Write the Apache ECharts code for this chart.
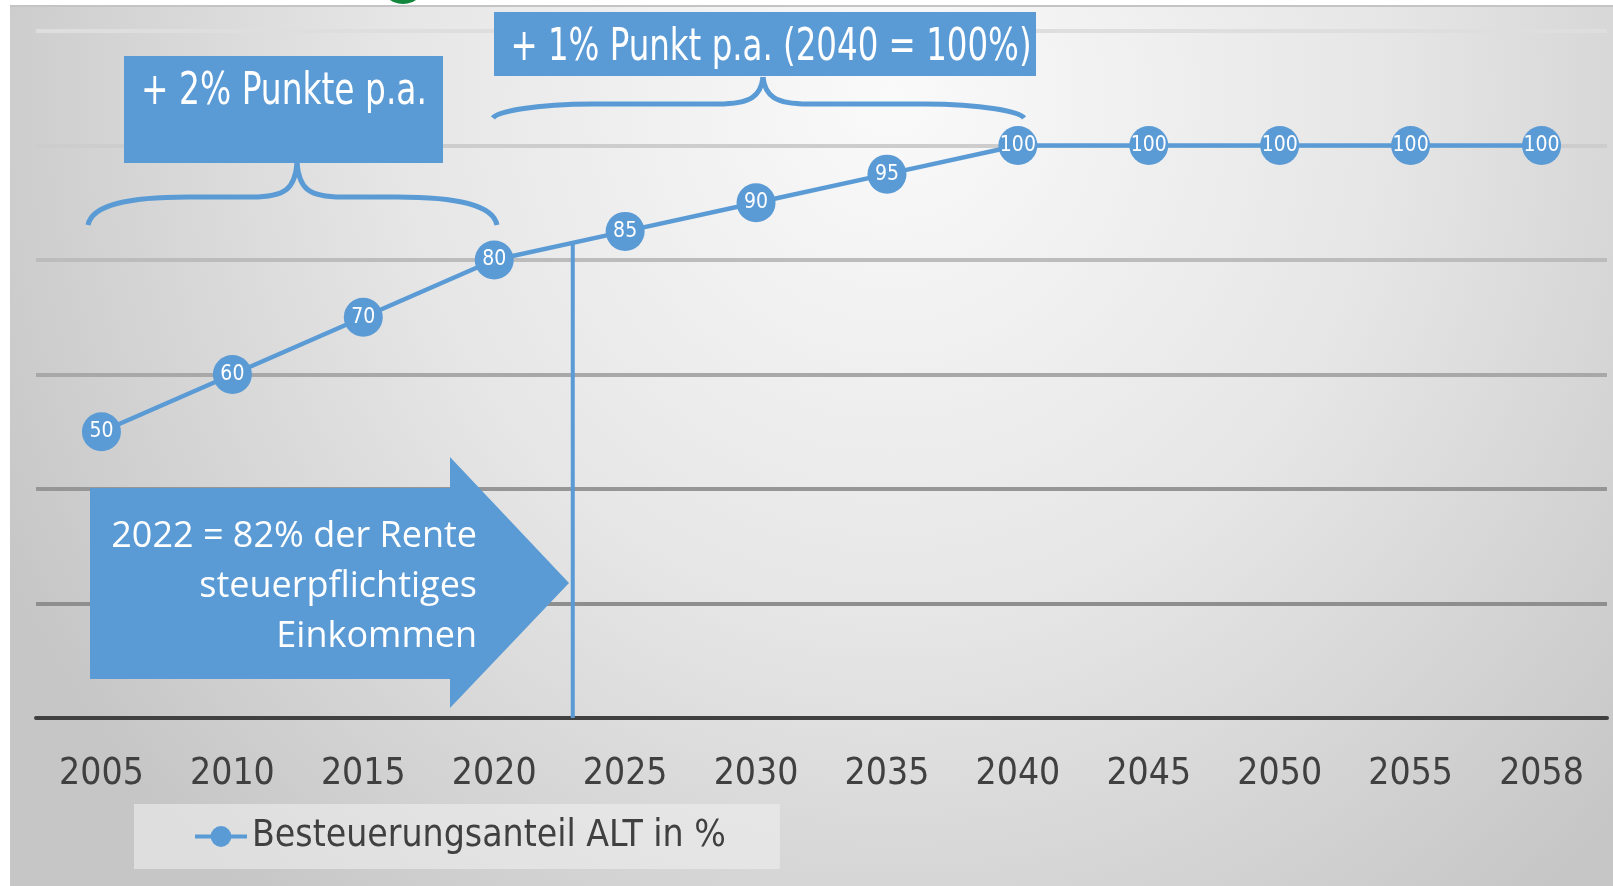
<!DOCTYPE html>
<html>
<head>
<meta charset="utf-8">
<script src="https://cdn.jsdelivr.net/npm/echarts@6/dist/echarts.min.js"></script>
<style>
    html, body { margin: 0; padding: 0; background: #fff; }
    #panel {
        position: absolute; left: 10px; top: 5px; width: 1603px; height: 881px;
        box-sizing: border-box; border-top: 2px solid #c4c4c4;
        background: radial-gradient(ellipse 62% 120% at 55% 10%, #fafafa 0%, #e6e6e6 50%, #c6c6c6 100%);
    }
    #chart { position: absolute; left: 0; top: 0; width: 1613px; height: 886px; }
</style>
</head>
<body>
<div id="panel"></div>
<div id="chart"></div>
<script>
// data
const years = ['2005', '2010', '2015', '2020', '2025', '2030', '2035', '2040', '2045', '2050', '2055', '2058'];
const shareValues = [50, 60, 70, 80, 85, 90, 95, 100, 100, 100, 100, 100];
const seriesName = 'Besteuerungsanteil ALT in %';
const markerYear = 2023;
const markerShare = 83;

const BLUE = '#5b9bd5';
const NARROW = '"Liberation Sans Narrow", "DejaVu Sans Condensed", sans-serif';
const SOFT = '"Open Sans", "Noto Sans", sans-serif';

// position of the marker year on the category index scale
const markerPos = (() => {
    const nums = years.map(Number);
    for (let i = 0; i < nums.length - 1; i++) {
        if (markerYear >= nums[i] && markerYear <= nums[i + 1]) {
            return i + (markerYear - nums[i]) / (nums[i + 1] - nums[i]);
        }
    }
    return 0;
})();

// curly brace built from bezier pieces and straight lines
const brace = (xL, xR, xT, yEnd, yMid, yTip) => {
    const st = { stroke: BLUE, lineWidth: 5, fill: 'none' };
    const curve = (x1, y1, cpx1, cpy1, cpx2, cpy2, x2, y2) => ({
        type: 'bezierCurve', z: 10,
        shape: { x1, y1, cpx1, cpy1, cpx2, cpy2, x2, y2 },
        style: st
    });
    const line = (x1, y1, x2, y2) => ({ type: 'line', z: 10, shape: { x1, y1, x2, y2 }, style: st });
    return [
        curve(xL, yEnd, xL + 4, yMid + 8, xL + 40, yMid, xL + 100, yMid),
        line(xL + 100, yMid, xT - 45, yMid),
        curve(xT - 45, yMid, xT - 12, yMid, xT - 2, yMid - 8, xT, yTip),
        curve(xT, yTip, xT + 2, yMid - 8, xT + 12, yMid, xT + 45, yMid),
        line(xT + 45, yMid, xR - 100, yMid),
        curve(xR - 100, yMid, xR - 40, yMid, xR - 4, yMid + 8, xR, yEnd)
    ];
};

const chart = echarts.init(document.getElementById('chart'));

const option = {
    backgroundColor: 'transparent',
    animation: false,
    grid: { left: 36, right: 6, top: 31, bottom: 168 },
    legend: {
        data: [seriesName],
        left: 134,
        top: 804,
        padding: [14, 54, 14, 59],
        backgroundColor: 'rgba(238,238,238,0.6)',
        itemWidth: 52,
        itemHeight: 26,
        selectedMode: false,
        lineStyle: { width: 4 },
        textStyle: { fontSize: 37, color: '#404040', fontFamily: NARROW }
    },
    xAxis: [
        {
            type: 'category',
            data: years,
            boundaryGap: true,
            axisLine: { lineStyle: { color: '#404040', width: 4 } },
            axisTick: { show: false },
            axisLabel: { interval: 0, fontSize: 37, color: '#404040', fontFamily: NARROW, margin: 38 }
        },
        { type: 'value', min: -0.5, max: 11.5, show: false }
    ],
    yAxis: {
        type: 'value',
        min: 0,
        max: 120,
        interval: 20,
        axisLabel: { show: false },
        axisLine: { show: false },
        axisTick: { show: false },
        splitLine: {
            lineStyle: {
                width: 4,
                color: ['#404040', '#8e8e8e', '#969696', '#a8a8a8', '#bcbcbc', '#cdcdcd', '#dedede']
            }
        }
    },
    series: [
        {
            name: 'marker',
            type: 'line',
            xAxisIndex: 1,
            data: [[markerPos, 0], [markerPos, markerShare]],
            symbol: 'none',
            silent: true,
            z: 1,
            lineStyle: { color: BLUE, width: 4 }
        },
        {
            name: seriesName,
            type: 'line',
            data: shareValues,
            symbol: 'circle',
            symbolSize: 39,
            z: 3,
            itemStyle: { color: BLUE },
            lineStyle: { color: BLUE, width: 4.5 },
            label: {
                show: true,
                position: 'inside',
                color: '#fff',
                fontSize: 21,
                fontFamily: NARROW
            }
        }
    ],
    graphic: [
        { type: 'circle', shape: { cx: 403, cy: -19, r: 23 }, style: { fill: '#12873d' } },
        // + 2% box and brace
        { type: 'rect', z: 10, shape: { x: 124, y: 56, width: 319, height: 107 }, style: { fill: BLUE } },
        {
            type: 'text', z: 11, x: 284, y: 93, scaleX: 0.83,
            style: { text: '+ 2% Punkte p.a.', fill: '#fff', fontSize: 44, fontFamily: NARROW, align: 'center', verticalAlign: 'middle' }
        },
        ...brace(88, 497, 297, 225, 197, 163),
        // + 1% box and brace
        { type: 'rect', z: 10, shape: { x: 494, y: 12, width: 542, height: 64 }, style: { fill: BLUE } },
        {
            type: 'text', z: 11, x: 771, y: 49, scaleX: 0.82,
            style: { text: '+ 1% Punkt p.a. (2040 = 100%)', fill: '#fff', fontSize: 44, fontFamily: NARROW, align: 'center', verticalAlign: 'middle' }
        },
        ...brace(493, 1024, 763, 118, 104, 77),
        // arrow
        {
            type: 'polygon', z: 10,
            shape: { points: [[90, 488], [450, 488], [450, 457], [569, 583], [450, 708], [450, 679], [90, 679]] },
            style: { fill: BLUE }
        },
        {
            type: 'text', z: 11, x: 477, y: 587,
            style: {
                text: '2022 = 82% der Rente\nsteuerpflichtiges\nEinkommen',
                fill: '#fff', fontSize: 36, fontFamily: SOFT, lineHeight: 50,
                align: 'right', verticalAlign: 'middle'
            }
        }
    ]
};

chart.setOption(option);
</script>
</body>
</html>
